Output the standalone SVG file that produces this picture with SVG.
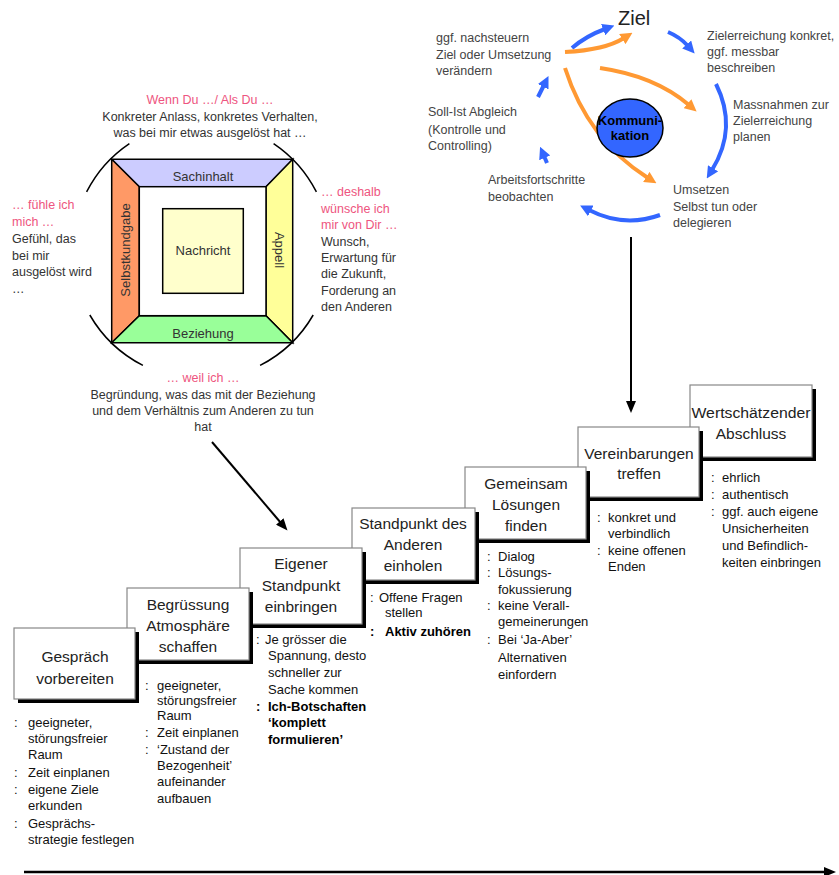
<svg xmlns="http://www.w3.org/2000/svg" width="839" height="875" viewBox="0 0 839 875">
<style>
text{font-family:"Liberation Sans",Arial,sans-serif}
.t{font-size:12.5px;fill:#333}
.p{font-size:12.5px;fill:#ee5580}
.lb{font-size:13px;fill:#333}
.ct{font-size:12.5px;fill:#444}
.bt{font-size:15.5px;fill:#222;text-anchor:middle}
.bu{font-size:13px;fill:#111}
.bb{font-size:13px;fill:#000;font-weight:bold}
.sh{fill:#000}
.bx{fill:#fff;stroke:#888;stroke-width:1.2}
.blue{fill:none;stroke:#3366ff;stroke-width:4}
.or{fill:none;stroke:#ff9933;stroke-width:4}
.blk{fill:none;stroke:#000;stroke-width:2}
.arc{fill:none;stroke:#000;stroke-width:1.5}
.q{stroke:#000;stroke-width:1.5}
</style>
<defs>
<marker id="ab" markerUnits="userSpaceOnUse" markerWidth="12" markerHeight="12" refX="2" refY="6" orient="auto" viewBox="0 0 12 12"><path d="M0,0 L12,6 L0,12 z" fill="#3366ff"/></marker>
<marker id="ao" markerUnits="userSpaceOnUse" markerWidth="12" markerHeight="12" refX="2" refY="6" orient="auto" viewBox="0 0 12 12"><path d="M0,0 L12,6 L0,12 z" fill="#ff9933"/></marker>
<marker id="ak" markerUnits="userSpaceOnUse" markerWidth="12" markerHeight="10" refX="2" refY="5" orient="auto" viewBox="0 0 12 10"><path d="M0,0 L12,5 L0,10 z" fill="#000"/></marker>
</defs>

<!-- Four-sides model -->
<g id="model">
<path class="arc" d="M86.6,191.9 A129,129 0 0 1 129.4,143.6"/>
<path class="arc" d="M273.6,143.6 A129,129 0 0 1 316.4,191.9"/>
<path class="arc" d="M313.2,315 A129,129 0 0 1 260.1,365.4"/>
<path class="arc" d="M142.9,365.4 A129,129 0 0 1 89.8,315"/>
<polygon class="q" fill="#ccccff" points="111.7,159.3 292.7,159.3 266,186.7 139.3,186.7"/>
<polygon class="q" fill="#ff9966" points="111.7,159.3 139.3,186.7 139.3,315.7 111.7,342.7"/>
<polygon class="q" fill="#ffff99" points="292.7,159.3 292.7,342.7 266,315.7 266,186.7"/>
<polygon class="q" fill="#99ff99" points="111.7,342.7 139.3,315.7 266,315.7 292.7,342.7"/>
<rect class="q" fill="#ffffff" x="139.3" y="186.7" width="126.7" height="129"/>
<rect class="q" fill="#ffffcc" x="162.7" y="208.7" width="80.6" height="84.6"/>
<text class="lb" x="203" y="181" text-anchor="middle">Sachinhalt</text>
<text class="lb" x="203" y="255" text-anchor="middle">Nachricht</text>
<text class="lb" x="203" y="338" text-anchor="middle">Beziehung</text>
<text class="lb" x="0" y="0" text-anchor="middle" transform="translate(130,250) rotate(-90)">Selbstkundgabe</text>
<text class="lb" x="0" y="0" text-anchor="middle" transform="translate(275,250) rotate(90)">Appell</text>
</g>
<g id="model-texts">
<text class="p" x="210" y="104" text-anchor="middle">Wenn Du …/ Als Du …</text>
<text class="t" x="210" y="121" text-anchor="middle">Konkreter Anlass, konkretes Verhalten,</text>
<text class="t" x="210" y="137" text-anchor="middle">was bei mir etwas ausgelöst hat …</text>
<text class="p" x="12" y="209">… fühle ich</text>
<text class="p" x="12" y="226">mich …</text>
<text class="t" x="12" y="243">Gefühl, das</text>
<text class="t" x="12" y="260">bei mir</text>
<text class="t" x="12" y="276">ausgelöst wird</text>
<text class="t" x="12" y="293">…</text>
<text class="p" x="321" y="196">… deshalb</text>
<text class="p" x="321" y="213">wünsche ich</text>
<text class="p" x="321" y="229">mir von Dir  …</text>
<text class="t" x="321" y="246">Wunsch,</text>
<text class="t" x="321" y="262">Erwartung für</text>
<text class="t" x="321" y="278">die Zukunft,</text>
<text class="t" x="321" y="295">Forderung an</text>
<text class="t" x="321" y="311">den Anderen</text>
<text class="p" x="203" y="382" text-anchor="middle">… weil ich …</text>
<text class="t" x="203" y="399" text-anchor="middle">Begründung, was das mit der Beziehung</text>
<text class="t" x="203" y="415" text-anchor="middle">und dem Verhältnis zum Anderen zu tun</text>
<text class="t" x="203" y="431" text-anchor="middle">hat</text>
</g>

<!-- Goal cycle -->
<g id="cycle-connectors">
<path class="blue" d="M572,48 Q586,36 605,29" marker-end="url(#ab)"/>
<path class="blue" d="M668,32 Q680,37 688,46" marker-end="url(#ab)"/>
<path class="blue" d="M716,84 Q738,128 712,170" marker-end="url(#ab)"/>
<path class="blue" d="M660,215 Q624,228 589,210" marker-end="url(#ab)"/>
<path class="blue" d="M538,97 L544,85" marker-end="url(#ab)"/>
<path class="blue" d="M547,163 L544,156" marker-end="url(#ab)"/>
<path class="or" d="M565,52 Q605,50 624,38" marker-end="url(#ao)"/>
<path class="or" d="M600,68 Q655,76 689,105" marker-end="url(#ao)"/>
<path class="or" d="M565,68 Q588,140 648,178" marker-end="url(#ao)"/>
</g>
<g id="kommunikation">
<ellipse cx="630" cy="128" rx="33" ry="29" fill="#3366ff" stroke="#000" stroke-width="1.5"/>
<text x="630" y="125" text-anchor="middle" font-size="13" font-weight="bold" fill="#000">Kommuni-</text>
<text x="630" y="140" text-anchor="middle" font-size="13" font-weight="bold" fill="#000">kation</text>
</g>
<g id="ziel"><text x="618" y="25" font-size="20" fill="#222">Ziel</text></g>
<g id="c1"><text class="ct" x="707" y="40">Zielerreichung konkret,</text><text class="ct" x="707" y="56">ggf. messbar</text><text class="ct" x="707" y="72">beschreiben</text></g>
<g id="c2"><text class="ct" x="733" y="109">Massnahmen zur</text><text class="ct" x="733" y="125">Zielerreichung</text><text class="ct" x="733" y="141">planen</text></g>
<g id="c3"><text class="ct" x="673" y="194">Umsetzen</text><text class="ct" x="673" y="211">Selbst tun oder</text><text class="ct" x="673" y="227">delegieren</text></g>
<g id="c4"><text class="ct" x="488" y="184">Arbeitsfortschritte</text><text class="ct" x="488" y="201">beobachten</text></g>
<g id="c5"><text class="ct" x="428" y="116">Soll-Ist Abgleich</text><text class="ct" x="428" y="134">(Kontrolle und</text><text class="ct" x="428" y="150">Controlling)</text></g>
<g id="c6"><text class="ct" x="436" y="42">ggf. nachsteuern</text><text class="ct" x="436" y="59">Ziel oder Umsetzung</text><text class="ct" x="436" y="75">verändern</text></g>

<!-- Main connectors -->
<g id="connectors">
<path class="blk" d="M631,237 L631,403" marker-end="url(#ak)"/>
<path class="blk" d="M212,442 L281,523" marker-end="url(#ak)"/>
<path d="M24,872 L826,872" fill="none" stroke="#000" stroke-width="2.5" marker-end="url(#ak)"/>
</g>

<!-- Staircase steps (right first so left ones overlap) -->
<g id="step7">
<rect class="sh" x="694" y="389" width="122" height="72"/>
<rect class="bx" x="690" y="385" width="122" height="72"/>
<text class="bt" x="751" y="418" textLength="119" lengthAdjust="spacingAndGlyphs">Wertschätzender</text>
<text class="bt" x="751" y="439">Abschluss</text>
</g>
<g id="step6">
<rect class="sh" x="582" y="431" width="121" height="70"/>
<rect class="bx" x="578" y="427" width="121" height="70"/>
<text class="bt" x="639" y="459">Vereinbarungen</text>
<text class="bt" x="639" y="479">treffen</text>
</g>
<g id="step5">
<rect class="sh" x="469" y="471" width="121" height="72"/>
<rect class="bx" x="465" y="467" width="121" height="72"/>
<text class="bt" x="526" y="489">Gemeinsam</text>
<text class="bt" x="526" y="510">Lösungen</text>
<text class="bt" x="526" y="531">finden</text>
</g>
<g id="step4">
<rect class="sh" x="356" y="512" width="123" height="72"/>
<rect class="bx" x="352" y="508" width="123" height="72"/>
<text class="bt" x="413" y="529">Standpunkt des</text>
<text class="bt" x="413" y="550">Anderen</text>
<text class="bt" x="413" y="571">einholen</text>
</g>
<g id="step3">
<rect class="sh" x="244" y="552" width="122" height="76"/>
<rect class="bx" x="240" y="548" width="122" height="76"/>
<text class="bt" x="301" y="569">Eigener</text>
<text class="bt" x="301" y="591">Standpunkt</text>
<text class="bt" x="301" y="612">einbringen</text>
</g>
<g id="step2">
<rect class="sh" x="131" y="592" width="122" height="72"/>
<rect class="bx" x="127" y="588" width="122" height="72"/>
<text class="bt" x="188" y="610">Begrüssung</text>
<text class="bt" x="188" y="631">Atmosphäre</text>
<text class="bt" x="188" y="652">schaffen</text>
</g>
<g id="step1">
<rect class="sh" x="18" y="632" width="121" height="71"/>
<rect class="bx" x="14" y="628" width="121" height="71"/>
<text class="bt" x="75" y="662">Gespräch</text>
<text class="bt" x="75" y="684">vorbereiten</text>
</g>

<!-- Bullet lists -->
<g id="list1">
<text class="bu" x="14" y="727">:</text><text class="bu" x="28" y="727">geeigneter,</text>
<text class="bu" x="28" y="743">störungsfreier</text>
<text class="bu" x="28" y="759">Raum</text>
<text class="bu" x="14" y="777">:</text><text class="bu" x="28" y="777">Zeit einplanen</text>
<text class="bu" x="14" y="794">:</text><text class="bu" x="28" y="794">eigene Ziele</text>
<text class="bu" x="28" y="810">erkunden</text>
<text class="bu" x="14" y="828">:</text><text class="bu" x="28" y="828">Gesprächs-</text>
<text class="bu" x="28" y="844">strategie festlegen</text>
</g>
<g id="list2">
<text class="bu" x="145" y="690">:</text><text class="bu" x="157" y="690">geeigneter,</text>
<text class="bu" x="157" y="705">störungsfreier</text>
<text class="bu" x="157" y="720">Raum</text>
<text class="bu" x="145" y="737">:</text><text class="bu" x="157" y="737">Zeit einplanen</text>
<text class="bu" x="145" y="754">:</text><text class="bu" x="157" y="754">‘Zustand der</text>
<text class="bu" x="157" y="770">Bezogenheit’</text>
<text class="bu" x="157" y="786">aufeinander</text>
<text class="bu" x="157" y="803">aufbauen</text>
</g>
<g id="list3">
<text class="bu" x="256" y="644">:</text><text class="bu" x="265" y="644">Je grösser die</text>
<text class="bu" x="268" y="660">Spannung, desto</text>
<text class="bu" x="268" y="677">schneller zur</text>
<text class="bu" x="268" y="694">Sache kommen</text>
<text class="bb" x="256" y="711">:</text><text class="bb" x="268" y="711">Ich-Botschaften</text>
<text class="bb" x="268" y="727">‘komplett</text>
<text class="bb" x="268" y="744">formulieren’</text>
</g>
<g id="list4">
<text class="bu" x="370" y="602">:</text><text class="bu" x="379" y="602">Offene Fragen</text>
<text class="bu" x="385" y="617">stellen</text>
<text class="bb" x="370" y="636">:</text><text class="bb" x="385" y="636">Aktiv zuhören</text>
</g>
<g id="list5">
<text class="bu" x="487" y="561">:</text><text class="bu" x="498" y="561">Dialog</text>
<text class="bu" x="487" y="577">:</text><text class="bu" x="498" y="577">Lösungs-</text>
<text class="bu" x="498" y="594">fokussierung</text>
<text class="bu" x="487" y="610">:</text><text class="bu" x="498" y="610">keine Verall-</text>
<text class="bu" x="498" y="626">gemeinerungen</text>
<text class="bu" x="487" y="644">:</text><text class="bu" x="498" y="644">Bei ‘Ja-Aber’</text>
<text class="bu" x="498" y="662">Alternativen</text>
<text class="bu" x="498" y="679">einfordern</text>
</g>
<g id="list6">
<text class="bu" x="597" y="522">:</text><text class="bu" x="608" y="522">konkret und</text>
<text class="bu" x="608" y="538">verbindlich</text>
<text class="bu" x="597" y="555">:</text><text class="bu" x="608" y="555">keine offenen</text>
<text class="bu" x="608" y="571">Enden</text>
</g>
<g id="list7">
<text class="bu" x="711" y="482">:</text><text class="bu" x="722" y="482">ehrlich</text>
<text class="bu" x="711" y="499">:</text><text class="bu" x="722" y="499">authentisch</text>
<text class="bu" x="711" y="516">:</text><text class="bu" x="722" y="516">ggf. auch eigene</text>
<text class="bu" x="722" y="533">Unsicherheiten</text>
<text class="bu" x="722" y="550">und Befindlich-</text>
<text class="bu" x="722" y="567">keiten einbringen</text>
</g>
</svg>
